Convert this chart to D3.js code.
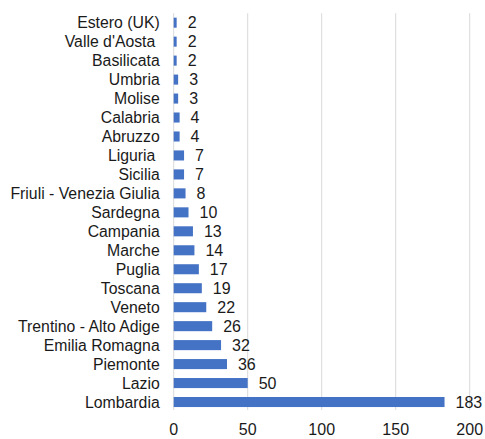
<!DOCTYPE html>
<html>
<head>
<meta charset="utf-8">
<script src="https://cdn.jsdelivr.net/npm/d3@7"></script>
<style>
  body { margin: 0; background: #fff; }
  svg { display: block; font-family: "Liberation Sans", Arial, sans-serif; }
  .cat { white-space: pre; }
</style>
</head>
<body>
<svg width="485" height="439"></svg>
<script>
const regions = ["Estero (UK)", "Valle d'Aosta ", "Basilicata", "Umbria", "Molise", "Calabria", "Abruzzo",
  "Liguria ", "Sicilia", "Friuli - Venezia Giulia", "Sardegna", "Campania", "Marche", "Puglia", "Toscana",
  "Veneto", "Trentino - Alto Adige", "Emilia Romagna", "Piemonte", "Lazio", "Lombardia"];
const counts = [2, 2, 2, 3, 3, 4, 4, 7, 7, 8, 10, 13, 14, 17, 19, 22, 26, 32, 36, 50, 183];
const ticks = [0, 50, 100, 150, 200];

const data = regions.map((r, i) => ({ name: r, value: counts[i] }));

const svg = d3.select("svg");
const plotLeft = 173.7, plotRight = 469.7, plotTop = 13.2, plotBottom = 411.5;

const x = d3.scaleLinear().domain([0, 200]).range([plotLeft, plotRight]);
const y = d3.scaleBand().domain(regions).range([plotTop, plotBottom]).paddingInner(0.47).paddingOuter(0.235);

// grid lines
svg.append("g").selectAll("line")
  .data(ticks)
  .join("line")
  .attr("x1", d => x(d)).attr("x2", d => x(d))
  .attr("y1", plotTop).attr("y2", plotBottom - 1.5)
  .attr("stroke", "#d9d9d9")
  .attr("stroke-width", 1);

// bars
svg.append("g").selectAll("rect")
  .data(data)
  .join("rect")
  .attr("x", x(0))
  .attr("y", d => y(d.name))
  .attr("width", d => x(d.value) - x(0))
  .attr("height", y.bandwidth())
  .attr("fill", "#4472C4");

// category labels
svg.append("g").selectAll("text")
  .data(data)
  .join("text")
  .attr("class", "cat")
  .attr("x", plotLeft - 14)
  .attr("y", d => y(d.name) + y.bandwidth() / 2)
  .attr("dy", "0.36em")
  .attr("text-anchor", "end")
  .attr("font-size", "15.8px")
  .attr("fill", "#1a1a1a")
  .text(d => d.name);

// value labels
svg.append("g").selectAll("text")
  .data(data)
  .join("text")
  .attr("x", d => x(d.value) + 11)
  .attr("y", d => y(d.name) + y.bandwidth() / 2)
  .attr("dy", "0.36em")
  .attr("font-size", "16px")
  .attr("fill", "#1a1a1a")
  .text(d => d.value);

// x axis tick labels
svg.append("g").selectAll("text")
  .data(ticks)
  .join("text")
  .attr("x", d => x(d))
  .attr("y", 435)
  .attr("text-anchor", "middle")
  .attr("font-size", "16px")
  .attr("fill", "#1a1a1a")
  .text(d => d);
</script>
</body>
</html>
